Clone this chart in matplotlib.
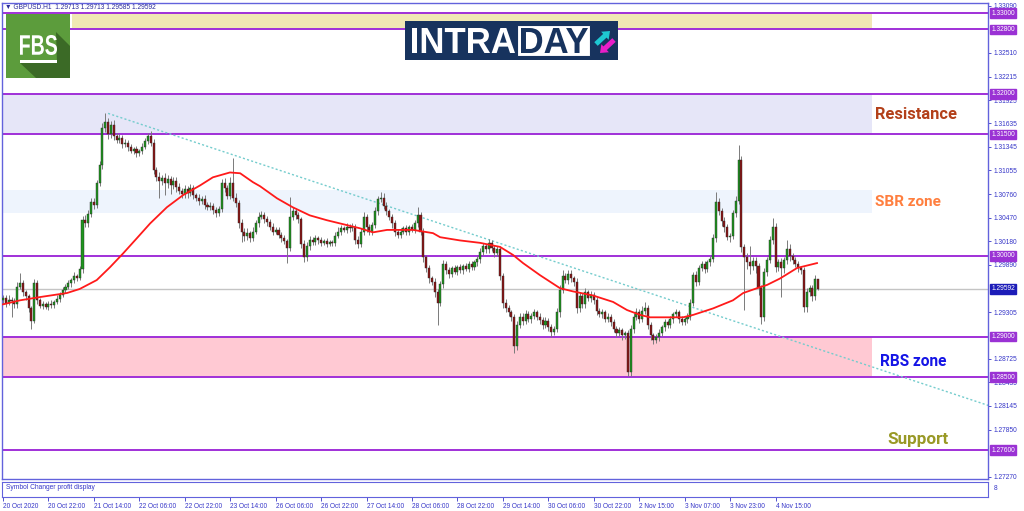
import numpy as np
import matplotlib
matplotlib.use("Agg")
import matplotlib.pyplot as plt
from matplotlib.patches import Rectangle, Polygon, PathPatch, FancyArrow
from matplotlib.textpath import TextPath
from matplotlib.font_manager import FontProperties
from matplotlib.transforms import Affine2D

plt.rcParams['font.family'] = ['Liberation Sans', 'DejaVu Sans']

# GBPUSD H1 closes, one per bar (open = previous close)
first_open = 1.2945
closes = [
    1.2948, 1.2942, 1.2946, 1.2944, 1.2940, 1.2962, 1.2966, 1.2955, 1.2950, 1.2935,
    1.2920, 1.2966, 1.2945, 1.2938, 1.2940, 1.2937, 1.2941, 1.2939, 1.2943, 1.2947,
    1.2952, 1.2958, 1.2962, 1.2966, 1.2970, 1.2975, 1.2973, 1.2984, 1.3044, 1.3040,
    1.3052, 1.3066, 1.3063, 1.3090, 1.3112, 1.3158, 1.3165, 1.3150, 1.3162, 1.3148,
    1.3143, 1.3146, 1.3138, 1.3140, 1.3134, 1.3130, 1.3132, 1.3127, 1.3129, 1.3135,
    1.3142, 1.3148, 1.3140, 1.3106, 1.3098, 1.3092, 1.3096, 1.3090, 1.3095, 1.3088,
    1.3093, 1.3085, 1.3080, 1.3076, 1.3082, 1.3078, 1.3084, 1.3075, 1.3072, 1.3068,
    1.3070, 1.3063, 1.3060, 1.3062, 1.3056, 1.3053, 1.3058, 1.3090, 1.3084, 1.3074,
    1.3090, 1.3072, 1.3065, 1.3040, 1.3030, 1.3024, 1.3028, 1.3022, 1.3030, 1.3040,
    1.3048, 1.3050, 1.3045, 1.3042, 1.3036, 1.3030, 1.3032, 1.3026, 1.3022, 1.3018,
    1.3010, 1.3048, 1.3055, 1.3050, 1.3045, 1.3015, 1.2998, 1.3012, 1.3020, 1.3017,
    1.3022, 1.3019, 1.3016, 1.3018, 1.3015, 1.3017, 1.3016, 1.3025, 1.3030, 1.3034,
    1.3032, 1.3036, 1.3034, 1.3036, 1.3020, 1.3015, 1.3030, 1.3048, 1.3035, 1.3030,
    1.3038, 1.3055, 1.3070, 1.3072, 1.3062, 1.3055, 1.3048, 1.3040, 1.3030, 1.3026,
    1.3030, 1.3034, 1.3030, 1.3035, 1.3032, 1.3040, 1.3050, 1.3030, 1.2998, 1.2985,
    1.2972, 1.2968, 1.2955, 1.2942, 1.2965, 1.2990, 1.2982, 1.2978, 1.2985, 1.2980,
    1.2986, 1.2982, 1.2987, 1.2984, 1.2990, 1.2986, 1.2992, 1.2996, 1.3005, 1.3012,
    1.3008, 1.3016, 1.3010, 1.3004, 1.3008, 1.2975, 1.2942, 1.2935, 1.2930, 1.2925,
    1.2888, 1.2915, 1.2925, 1.2920, 1.2928, 1.2922, 1.2926, 1.2930, 1.2925, 1.2921,
    1.2915, 1.2920, 1.2912, 1.2906, 1.2910, 1.2930, 1.2958, 1.2975, 1.2970, 1.2978,
    1.2972, 1.2968, 1.2935, 1.2950, 1.2940, 1.2955, 1.2948, 1.2952, 1.2945, 1.2932,
    1.2928, 1.2930, 1.2922, 1.2925, 1.2918, 1.2910, 1.2905, 1.2908, 1.2902, 1.2904,
    1.2856, 1.2910, 1.2925, 1.2930, 1.2922, 1.2932, 1.2935, 1.2915, 1.2902, 1.2896,
    1.2900, 1.2905, 1.2912, 1.2918, 1.2915, 1.2922, 1.2928, 1.2930, 1.2922, 1.2918,
    1.2922, 1.2925, 1.2942, 1.2976, 1.2968, 1.2985, 1.2990, 1.2984, 1.2992, 1.2996,
    1.3022, 1.3066, 1.3055, 1.3043, 1.3035, 1.3023, 1.3025, 1.3053, 1.3068, 1.3118,
    1.3011, 1.2998, 1.2992, 1.2988, 1.2994, 1.2987, 1.2960, 1.2925, 1.2980, 1.2995,
    1.3020, 1.3036, 1.2986, 1.2992, 1.2985, 1.2995, 1.3008, 1.3000, 1.2995, 1.2990,
    1.2985, 1.2982, 1.2937, 1.2955, 1.2960, 1.2950, 1.29713, 1.29592,
]

# upper / lower wick lengths in pips
wick_up = [
    4, 3, 5, 3, 4, 6, 13, 4, 3, 3,
    3, 5, 4, 3, 4, 3, 3, 4, 3, 4,
    3, 4, 3, 4, 3, 5, 3, 4, 5, 6,
    4, 5, 6, 4, 5, 6, 11, 5, 4, 6,
    4, 5, 3, 4, 3, 4, 3, 4, 3, 5,
    4, 4, 6, 4, 4, 5, 4, 6, 5, 4,
    5, 4, 5, 4, 6, 4, 5, 4, 3, 4,
    4, 5, 3, 4, 3, 4, 3, 5, 6, 4,
    8, 31, 5, 4, 5, 4, 6, 3, 5, 4,
    6, 5, 4, 4, 3, 4, 3, 4, 3, 4,
    3, 25, 5, 4, 4, 3, 4, 5, 4, 3,
    4, 3, 4, 3, 4, 3, 3, 4, 5, 4,
    3, 4, 3, 5, 3, 4, 4, 6, 4, 4,
    4, 5, 4, 7, 5, 4, 3, 4, 4, 3,
    4, 3, 4, 3, 4, 4, 10, 4, 4, 3,
    4, 3, 5, 4, 4, 5, 3, 4, 3, 4,
    3, 4, 3, 4, 3, 4, 3, 4, 5, 4,
    3, 5, 4, 3, 4, 4, 4, 5, 4, 3,
    3, 5, 4, 4, 5, 4, 3, 4, 3, 4,
    3, 4, 3, 4, 3, 5, 6, 7, 4, 4,
    4, 3, 4, 5, 4, 5, 3, 4, 3, 4,
    3, 4, 3, 4, 3, 4, 3, 4, 3, 3,
    4, 5, 4, 5, 4, 6, 8, 4, 3, 3,
    3, 4, 3, 4, 3, 4, 3, 4, 3, 4,
    3, 4, 5, 4, 5, 4, 3, 4, 3, 4,
    5, 13, 5, 4, 5, 4, 3, 4, 6, 19,
    5, 4, 6, 20, 5, 4, 4, 4, 5, 4,
    5, 11, 4, 4, 5, 4, 11, 6, 4, 4,
    4, 3, 4, 5, 4, 4, 5, 0,
]
wick_dn = [
    4, 5, 3, 20, 4, 4, 3, 5, 4, 4,
    11, 3, 4, 3, 4, 3, 4, 3, 4, 3,
    4, 3, 4, 3, 4, 3, 4, 3, 5, 4,
    5, 4, 5, 4, 4, 5, 5, 6, 4, 5,
    4, 3, 5, 4, 4, 3, 4, 5, 4, 3,
    3, 4, 4, 5, 6, 20, 5, 15, 6, 12,
    5, 6, 4, 5, 4, 6, 4, 5, 4, 5,
    4, 5, 4, 3, 4, 5, 4, 4, 5, 4,
    4, 4, 5, 6, 13, 6, 4, 5, 4, 3,
    4, 3, 4, 5, 4, 4, 3, 4, 5, 4,
    19, 4, 4, 5, 4, 5, 6, 4, 5, 4,
    4, 5, 4, 3, 4, 3, 4, 4, 3, 4,
    3, 4, 4, 3, 6, 5, 4, 4, 5, 4,
    4, 4, 5, 4, 4, 5, 4, 6, 5, 4,
    4, 3, 4, 4, 3, 4, 5, 4, 6, 5,
    5, 4, 6, 28, 4, 5, 4, 5, 4, 3,
    4, 3, 4, 3, 4, 3, 4, 4, 5, 4,
    4, 5, 4, 6, 4, 5, 6, 5, 4, 5,
    8, 5, 4, 5, 4, 4, 5, 4, 4, 5,
    5, 4, 5, 6, 4, 4, 5, 4, 4, 5,
    4, 5, 6, 4, 5, 4, 4, 5, 4, 5,
    4, 5, 4, 4, 5, 4, 5, 4, 6, 5,
    5, 4, 5, 4, 5, 4, 4, 5, 6, 5,
    4, 5, 4, 5, 4, 4, 5, 4, 5, 4,
    4, 5, 4, 4, 5, 4, 4, 5, 4, 4,
    4, 5, 5, 6, 5, 4, 6, 4, 5, 4,
    6, 65, 8, 10, 6, 8, 9, 9, 5, 5,
    4, 5, 6, 5, 36, 6, 5, 6, 5, 4,
    5, 4, 7, 6, 5, 6, 5, 1,
]

# red moving average, read at some bars
ma_bar = [0, 6, 13, 22.5, 27, 33, 37.7, 42.3, 47.2, 51.8, 57.7, 63.4, 69.4, 73.9,
          79.9, 83.5, 88, 90.5, 96.5, 102, 108, 114, 121, 125.7, 130.3, 135.2,
          144.4, 151.4, 153.9, 160.9, 168, 175, 179.6, 183.1, 189.1, 196.1, 200.7,
          207.7, 214.8, 219.7, 224.3, 227.8, 233.8, 239.4, 243, 250, 257, 260.6,
          265.5, 269, 273.6, 279.6, 286.6]
ma_val = [1.2940, 1.2945, 1.2949, 1.2954, 1.2959, 1.2970, 1.2986, 1.3003, 1.3022,
          1.3040, 1.3060, 1.3075, 1.3087, 1.3097, 1.3103, 1.3102, 1.3091, 1.3086,
          1.3071, 1.3060, 1.3050, 1.3044, 1.3038, 1.3034, 1.3029, 1.3032, 1.3032,
          1.3028, 1.3023, 1.3019, 1.3016, 1.3011, 1.3001, 1.2991, 1.2976, 1.2960,
          1.2956, 1.2951, 1.2943, 1.2933, 1.2927, 1.2924, 1.2924, 1.2924, 1.2927,
          1.2935, 1.2945, 1.2954, 1.2960, 1.2964, 1.2972, 1.2985, 1.2991]

levels = [1.33000, 1.32800, 1.32000, 1.31500, 1.30000, 1.29000, 1.28500, 1.27600]
last_price = 1.29592
trend_bar = [37, 347]
trend_val = [1.3176, 1.2815]

# ticks that are not hidden behind the level labels
price_ticks = [1.33090, 1.32510, 1.32215, 1.31925, 1.31635, 1.31345,
               1.31055, 1.30760, 1.30470, 1.30180, 1.29890, 1.29305,
               1.28725, 1.28435, 1.28145, 1.27850, 1.27270]
time_labels = ['20 Oct 2020', '20 Oct 22:00', '21 Oct 14:00', '22 Oct 06:00',
               '22 Oct 22:00', '23 Oct 14:00', '26 Oct 06:00', '26 Oct 22:00',
               '27 Oct 14:00', '28 Oct 06:00', '28 Oct 22:00', '29 Oct 14:00',
               '30 Oct 06:00', '30 Oct 22:00', '2 Nov 15:00', '3 Nov 07:00',
               '3 Nov 23:00', '4 Nov 15:00']

# zones: (low, high, colour)
zone_lo = [1.3280, 1.3150, 1.3053, 1.2850]
zone_hi = [1.3300, 1.3200, 1.3081, 1.2900]
zone_col = ['#f0e8b4', '#e6e6f8', '#eef4fd', '#ffc9d3']
zone_start = [24.3, -0.4, -0.4, -0.4]
zone_end = 306

blue = '#3535c8'
purple = '#a030d8'

# ---- figure
fig = plt.figure(figsize=(10.24, 5.11), dpi=100)
W, H = 1024, 511
ax = fig.add_axes([2 / W, (H - 479) / H, 986 / W, 476 / H])
ax.set_xlim(-0.35, 346.8)
ax.set_ylim(1.27242, 1.33124)

for lo, hi, c, x0 in zip(zone_lo, zone_hi, zone_col, zone_start):
    ax.add_patch(Rectangle((x0, lo), zone_end - x0, hi - lo, color=c, lw=0, zorder=0))

for lv in levels:
    ax.axhline(lv, color=purple, lw=1.4, zorder=1)
ax.axhline(last_price, color='#c4c4c4', lw=1, zorder=1)

ax.plot(trend_bar, trend_val, color='#74cccd', lw=1.0, ls=(0, (1.5, 1.6)), zorder=2)

c = np.array(closes)
o = np.concatenate([[first_open], c[:-1]])
hi = np.maximum(o, c) + np.array(wick_up) * 0.0001
lo = np.minimum(o, c) - np.array(wick_dn) * 0.0001
idx = np.arange(len(c))
ax.vlines(idx, lo, hi, color='#7a7a7a', lw=0.7, zorder=3)
body_col = np.where(c >= o, '#1e961e', '#8c1414')
ax.bar(idx, np.maximum(np.abs(c - o), 0.00006), bottom=np.minimum(o, c), width=0.72,
       color=body_col, edgecolor='#2a2a2a', lw=0.3, zorder=4)

ax.plot(ma_bar, ma_val, color='#ff1a1a', lw=1.3, zorder=5)

# zone captions
cap = dict(fontweight='bold', family='Roboto', va='center', ha='left', zorder=6)
ax.text(307, 1.3175, 'Resistance', color='#b3401a', fontsize=11.9, **cap)
ax.text(307, 1.3067, 'SBR zone', color='#ff7f3f', fontsize=11, **cap)
ax.text(308.8, 1.2869, 'RBS zone', color='#1515e6', fontsize=11.2, **cap)
ax.text(311.3, 1.2773, 'Support', color='#999926', fontsize=12.3, **cap)

# price axis on the right
ax.yaxis.tick_right()
ax.set_yticks(price_ticks)
ax.set_yticklabels([f'{v:.5f}' for v in price_ticks])
ax.tick_params(axis='y', colors=blue, labelsize=4.8, length=2.5, width=0.6, pad=1.5)
ax.set_xticks([])
for s in ax.spines.values():
    s.set_color('#6262dc')
    s.set_linewidth(1)

for lv in levels:
    ax.annotate(f'{lv:.5f}', xy=(1.0035, lv), xycoords=('axes fraction', 'data'),
                ha='left', va='center', fontsize=4.8, color='white', zorder=10,
                annotation_clip=False,
                bbox=dict(boxstyle='square,pad=0.18', fc='#9a32d4', ec='#9a32d4'))
ax.annotate(f'{last_price:.5f}', xy=(1.0035, last_price), xycoords=('axes fraction', 'data'),
            ha='left', va='center', fontsize=4.8, color='white', zorder=10,
            annotation_clip=False,
            bbox=dict(boxstyle='square,pad=0.18', fc='#1c1cb8', ec='#1c1cb8'))

# sub window with the time axis
ax2 = fig.add_axes([2 / W, (H - 497) / H, 986 / W, 15.5 / H])
ax2.set_xlim(-0.35, 346.8)
ax2.set_ylim(0, 1)
ax2.set_yticks([])
ax2.set_xticks(np.arange(len(time_labels)) * 16)
ax2.set_xticklabels(time_labels)
for t in ax2.get_xticklabels():
    t.set_ha('left')
ax2.tick_params(axis='x', colors=blue, labelsize=4.7, length=3, width=0.6, pad=1.5)
for s in ax2.spines.values():
    s.set_color('#6262dc')
ax2.text(0.004, 0.62, 'Symbol Changer profit display', transform=ax2.transAxes,
         fontsize=4.8, color=blue, va='center')

# decorations in pixel space
deco = fig.add_axes([0, 0, 1, 1], zorder=20)
deco.set_xlim(0, W)
deco.set_ylim(H, 0)
deco.axis('off')
deco.patch.set_alpha(0)

deco.text(5, 7, '\u25bc GBPUSD.H1  1.29713 1.29713 1.29585 1.29592', fontsize=4.8,
          color='#2b2b9b', va='center', ha='left')
deco.text(994, 489, '8', fontsize=4.8, color=blue, va='center')


def glyphs(s, x0, x1, ytop, ybot, color, family='Liberation Sans'):
    tp = TextPath((0, 0), s, size=1, prop=FontProperties(family=family, weight='bold'))
    bb = tp.get_extents()
    sx = (x1 - x0) / bb.width
    sy = (ybot - ytop) / bb.height
    tr = Affine2D().translate(-bb.x0, -bb.y0).scale(sx, -sy).translate(x0, ybot) + deco.transData
    deco.add_patch(PathPatch(tp, transform=tr, fc=color, lw=0))


# FBS logo
deco.add_patch(Rectangle((6, 14), 64, 64, fc='#5c9c3c', lw=0))
deco.add_patch(Polygon([(56, 32), (70, 46), (70, 78), (36, 78), (20, 63), (57, 63)],
                       closed=True, fc='#3b6a26', lw=0))
glyphs('FBS', 20, 57, 35, 55, 'white')
deco.add_patch(Rectangle((20, 60), 37, 3, fc='white', lw=0))

# INTRADAY logo
deco.add_patch(Rectangle((405, 21), 213, 39, fc='#17335e', lw=0))
glyphs('INTRA', 412, 515, 28, 53, 'white')
deco.add_patch(Rectangle((517, 25), 73, 31, fc='white', ec='#17335e', lw=0.8))
glyphs('DAY', 521, 588, 28, 53, '#17335e')
deco.add_patch(FancyArrow(596, 44, 14, -13, width=5, head_width=11, head_length=7,
                          fc='#1ec8d2', lw=0, length_includes_head=True))
deco.add_patch(FancyArrow(614, 40, -14, 13, width=5, head_width=11, head_length=7,
                          fc='#e81ec8', lw=0, length_includes_head=True))

fig.savefig('out.png', dpi=100)
